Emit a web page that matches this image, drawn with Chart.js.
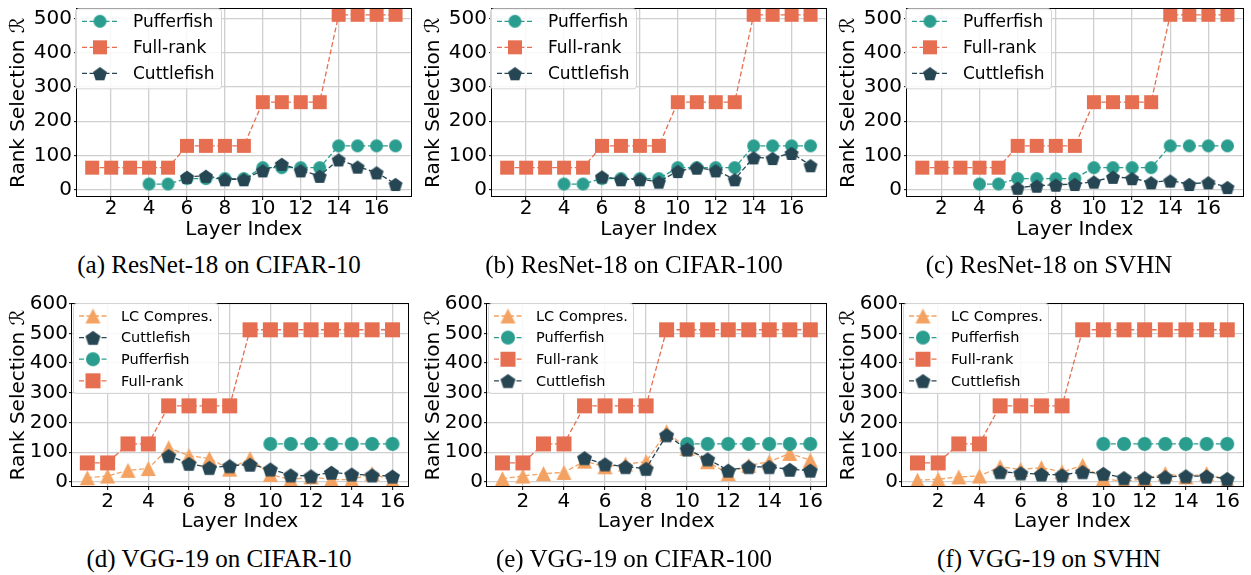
<!DOCTYPE html>
<html>
<head>
<meta charset="utf-8">
<title>Rank selection per layer</title>
<script src="https://cdn.jsdelivr.net/npm/chart.js@4.4.0/dist/chart.umd.min.js"></script>
<style>
  body { margin: 0; background: #fff; width: 1251px; height: 575px; position: relative; overflow: hidden; }
  canvas { position: absolute; }
  .cap {
    position: absolute;
    font-family: 'Liberation Serif', serif;
    font-size: 25px;
    line-height: 25px;
    white-space: nowrap;
    transform: translateX(-50%);
    color: #000;
  }
</style>
</head>
<body>
<canvas id="chart-a" width="419" height="242" style="left:0;top:0"></canvas>
<canvas id="chart-b" width="419" height="242" style="left:415px;top:0"></canvas>
<canvas id="chart-c" width="421" height="242" style="left:830px;top:0"></canvas>
<canvas id="chart-d" width="416" height="244" style="left:0;top:290px"></canvas>
<canvas id="chart-e" width="419" height="244" style="left:415px;top:290px"></canvas>
<canvas id="chart-f" width="421" height="244" style="left:830px;top:290px"></canvas>

<div class="cap" style="left:219px;top:252px">(a) ResNet-18 on CIFAR-10</div>
<div class="cap" style="left:634px;top:252px">(b) ResNet-18 on CIFAR-100</div>
<div class="cap" style="left:1049px;top:252px">(c) ResNet-18 on SVHN</div>
<div class="cap" style="left:219px;top:546px">(d) VGG-19 on CIFAR-10</div>
<div class="cap" style="left:634px;top:546px">(e) VGG-19 on CIFAR-100</div>
<div class="cap" style="left:1049px;top:546px">(f) VGG-19 on SVHN</div>

<script>
// layer indices and tick labels
const resnetLayers = [1, 2, 3, 4, 5, 6, 7, 8, 9, 10, 11, 12, 13, 14, 15, 16, 17];
const vggLayers = [1, 2, 3, 4, 5, 6, 7, 8, 9, 10, 11, 12, 13, 14, 15, 16];
const layerTicks = [2, 4, 6, 8, 10, 12, 14, 16];
const resnetRankTicks = [0, 100, 200, 300, 400, 500];
const vggRankTicks = [0, 100, 200, 300, 400, 500, 600];

// ResNet-18 ranks
const resnetFullRank = [64, 64, 64, 64, 64, 128, 128, 128, 128, 256, 256, 256, 256, 512, 512, 512, 512];
const resnetPufferfish = [null, null, null, 16, 16, 32, 32, 32, 32, 64, 64, 64, 64, 128, 128, 128, 128];
const resnetCuttlefishCifar10 = [null, null, null, null, null, 37, 40, 30, 30, 56, 75, 56, 40, 88, 67, 50, 16];
const resnetCuttlefishCifar100 = [null, null, null, null, null, 38, 30, 30, 23, 54, 64, 56, 30, 94, 92, 107, 71];
const resnetCuttlefishSvhn = [null, null, null, null, null, 5, 11, 14, 16, 23, 37, 33, 21, 26, 16, 21, 7];

// VGG-19 ranks
const vggFullRank = [64, 64, 128, 128, 256, 256, 256, 256, 512, 512, 512, 512, 512, 512, 512, 512];
const vggPufferfish = [null, null, null, null, null, null, null, null, null, 128, 128, 128, 128, 128, 128, 128];
const vggLcCifar10 = [14, 20, 39, 45, 115, 88, 79, 43, 79, 25, 8, 17, 8, 8, 28, 6];
const vggCuttlefishCifar10 = [null, null, null, null, 88, 62, 48, 54, 59, 43, 23, 20, 32, 26, 23, 19];
const vggLcCifar100 = [11, 20, 28, 32, 70, 51, 60, 68, 169, 113, 68, 28, 56, 68, 96, 73];
const vggCuttlefishCifar100 = [null, null, null, null, 81, 60, 51, 45, 158, 110, 77, 39, 51, 51, 42, 39];
const vggLcSvhn = [6, 9, 17, 20, 51, 42, 48, 34, 56, 11, 2, 11, 28, 17, 28, 6];
const vggCuttlefishSvhn = [null, null, null, null, 34, 30, 26, 23, 34, 28, 14, 14, 17, 20, 19, 11];

const colors = {
  puffer: "#2a9d8f",
  full: "#e76f51",
  cuttle: "#264653",
  lc: "#f4a261",
};

Chart.defaults.font.family = "'DejaVu Sans', sans-serif";
Chart.defaults.color = "#000";

// small canvas used as the point style of each series
function makeMarker(shape, color, size) {
  const c = document.createElement("canvas");
  c.width = c.height = size + 2;
  const g = c.getContext("2d");
  const m = (size + 2) / 2;
  const r = size / 2;
  g.fillStyle = color;
  g.beginPath();
  if (shape === "circle") {
    g.arc(m, m, r, 0, Math.PI * 2);
  } else if (shape === "square") {
    g.rect(m - r, m - r, size, size);
  } else if (shape === "triangle") {
    g.moveTo(m, m - r);
    g.lineTo(m + r, m + r);
    g.lineTo(m - r, m + r);
    g.closePath();
  } else {
    // pentagon, point up
    for (let k = 0; k < 5; k++) {
      const a = -Math.PI / 2 + (k * 2 * Math.PI) / 5;
      const px = m + r * 1.05 * Math.cos(a);
      const py = m + 1 + r * 1.05 * Math.sin(a);
      if (k === 0) g.moveTo(px, py);
      else g.lineTo(px, py);
    }
    g.closePath();
  }
  g.fill();
  return c;
}

// axes frame on all four sides
const framePlugin = {
  id: "frame",
  afterDatasetsDraw(chart) {
    const { ctx, chartArea: a } = chart;
    ctx.save();
    ctx.strokeStyle = "#000";
    ctx.lineWidth = 1;
    ctx.strokeRect(Math.round(a.left) - 0.5, Math.round(a.top) + 0.5, Math.round(a.width) + 1, Math.round(a.height) - 1);
    ctx.restore();
  },
};

// legend box in the upper left corner of the plot
const boxLegend = {
  id: "boxLegend",
  afterDraw(chart, args, opts) {
    const { ctx, chartArea: a } = chart;
    ctx.save();
    ctx.beginPath();
    ctx.roundRect(a.left + opts.dx + 0.5, a.top + opts.dy + 0.5, opts.w, opts.h, 3);
    ctx.fillStyle = "rgba(255,255,255,0.85)";
    ctx.fill();
    ctx.strokeStyle = "#d4d4d4";
    ctx.lineWidth = 1;
    ctx.stroke();
    ctx.font = opts.size + "px 'DejaVu Sans'";
    ctx.textBaseline = "middle";
    chart.data.datasets.forEach((ds, i) => {
      const cy = a.top + opts.row0 + i * opts.rowGap;
      ctx.strokeStyle = ds.borderColor;
      ctx.lineWidth = 1.3;
      ctx.setLineDash([5, 2.5]);
      ctx.beginPath();
      ctx.moveTo(a.left + opts.line0, cy);
      ctx.lineTo(a.left + opts.line1, cy);
      ctx.stroke();
      ctx.setLineDash([]);
      const img = ds.pointStyle;
      ctx.drawImage(img, a.left + opts.mark - img.width / 2, cy - img.height / 2);
      ctx.fillStyle = "#000";
      ctx.fillText(ds.label, a.left + opts.text, cy + 1);
    });
    ctx.restore();
  },
};

const topRow = {
  padTop: 2, xHeight: 45, yWidth: 77,
  xMin: 0.2, xMax: 17.8, yMin: -22, yMax: 531,
  xTickPad: -1, yTickPad: 2, marker: 13,
  legend: { dx: -2, dy: 0, w: 146, h: 80, row0: 13, rowGap: 26, line0: 5, line1: 42, mark: 23, text: 56, size: 17 },
};
const bottomRow = {
  padTop: 13, xHeight: 47, yWidth: 72,
  xMin: 0.25, xMax: 16.75, yMin: -17, yMax: 602,
  xTickPad: 2, yTickPad: 1, marker: 14,
  legend: { dx: 1, dy: 0, w: 145, h: 90, row0: 13, rowGap: 21.6, line0: 7, line1: 36, mark: 21, text: 49, size: 14.5 },
};

function drawPanel(id, row, layers, rankTicks, rightPad, series) {
  const datasets = series.map((s, i) => ({
    label: s.label,
    data: layers.map((x, k) => ({ x: x, y: s.values[k] })),
    borderColor: s.color,
    backgroundColor: s.color,
    borderWidth: 1.3,
    borderDash: [5, 2.5],
    pointStyle: makeMarker(s.shape, s.color, s.shape === "circle" ? row.marker : row.marker + 1),
    pointRadius: 7,
    spanGaps: false,
    fill: false,
    // later series drawn on top
    order: series.length - i,
  }));

  new Chart(document.getElementById(id), {
    type: "line",
    data: { datasets },
    plugins: [framePlugin, boxLegend],
    options: {
      responsive: false,
      animation: false,
      events: [],
      layout: { padding: { top: row.padTop, right: rightPad, left: 0, bottom: 0 } },
      plugins: {
        legend: { display: false },
        tooltip: { enabled: false },
        boxLegend: row.legend,
      },
      scales: {
        x: {
          type: "linear",
          min: row.xMin,
          max: row.xMax,
          afterBuildTicks: (scale) => {
            scale.ticks = layerTicks.map((v) => ({ value: v }));
          },
          afterFit: (scale) => {
            scale.height = row.xHeight;
            scale.paddingLeft = 0;
            scale.paddingRight = 0;
          },
          ticks: { font: { size: 20, lineHeight: 1 }, padding: row.xTickPad, maxRotation: 0 },
          grid: { color: "#cfcfcf", lineWidth: 1.3, tickLength: 3, tickColor: "#000", tickWidth: 1 },
          border: { display: false },
          title: { display: true, text: "Layer Index", font: { size: 20 }, padding: 0 },
        },
        y: {
          type: "linear",
          min: row.yMin,
          max: row.yMax,
          afterBuildTicks: (scale) => {
            scale.ticks = rankTicks.map((v) => ({ value: v }));
          },
          afterFit: (scale) => {
            scale.width = row.yWidth;
            // keep the plot top where the layout padding puts it
            scale.paddingTop = 0;
            scale.paddingBottom = 0;
          },
          ticks: { font: { size: 20 }, padding: row.yTickPad },
          grid: { color: "#cfcfcf", lineWidth: 1.3, tickLength: 3, tickColor: "#000", tickWidth: 1 },
          border: { display: false },
          title: { display: true, text: "Rank Selection \u211B", font: { size: 20 }, padding: { top: 7, bottom: 0 } },
        },
      },
    },
  });
}

const puffer = (values) => ({ label: "Pufferfish", values, color: colors.puffer, shape: "circle" });
const full = (values) => ({ label: "Full-rank", values, color: colors.full, shape: "square" });
const cuttle = (values) => ({ label: "Cuttlefish", values, color: colors.cuttle, shape: "pentagon" });
const lc = (values) => ({ label: "LC Compres.", values, color: colors.lc, shape: "triangle" });

drawPanel("chart-a", topRow, resnetLayers, resnetRankTicks, 3,
  [puffer(resnetPufferfish), full(resnetFullRank), cuttle(resnetCuttlefishCifar10)]);
drawPanel("chart-b", topRow, resnetLayers, resnetRankTicks, 3,
  [puffer(resnetPufferfish), full(resnetFullRank), cuttle(resnetCuttlefishCifar100)]);
drawPanel("chart-c", topRow, resnetLayers, resnetRankTicks, 5,
  [puffer(resnetPufferfish), full(resnetFullRank), cuttle(resnetCuttlefishSvhn)]);

drawPanel("chart-d", bottomRow, vggLayers, vggRankTicks, 3,
  [lc(vggLcCifar10), cuttle(vggCuttlefishCifar10), puffer(vggPufferfish), full(vggFullRank)]);
drawPanel("chart-e", bottomRow, vggLayers, vggRankTicks, 6,
  [lc(vggLcCifar100), puffer(vggPufferfish), full(vggFullRank), cuttle(vggCuttlefishCifar100)]);
drawPanel("chart-f", bottomRow, vggLayers, vggRankTicks, 8,
  [lc(vggLcSvhn), puffer(vggPufferfish), full(vggFullRank), cuttle(vggCuttlefishSvhn)]);
</script>
</body>
</html>
